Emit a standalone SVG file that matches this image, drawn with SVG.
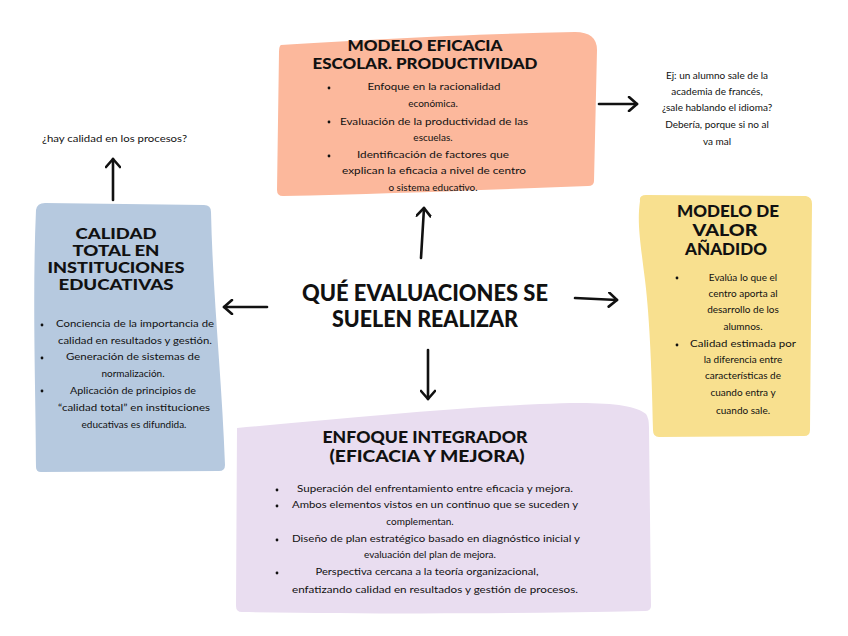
<svg xmlns="http://www.w3.org/2000/svg" width="848" height="636" viewBox="0 0 848 636">
<style>
.t{font-family:"Lato","Liberation Sans",sans-serif;font-weight:900;fill:#111;text-anchor:middle}
.h{font-size:17px}
.hs{font-size:15px}
.c{font-size:22px}
.b{font-family:"Lato","Open Sans",sans-serif;font-size:10px;fill:#111;text-anchor:middle}
.bl{font-family:"Lato","Open Sans",sans-serif;font-size:10px;fill:#111}
.dot{fill:#111}
.arr{stroke:#111;stroke-width:2.6;fill:none;stroke-linecap:round;marker-end:url(#ah)}
</style>
<defs>
<marker id="ah" viewBox="0 0 14 16" refX="11" refY="8" markerWidth="14" markerHeight="16" markerUnits="userSpaceOnUse" orient="auto">
<path d="M3,1 L11,8 L3,15" fill="none" stroke="#111" stroke-width="2.6" stroke-linecap="round" stroke-linejoin="round"/>
</marker>
</defs>
<rect width="848" height="636" fill="#fff"/>

<g id="connectors">
<path class="arr" d="M421,258 L424,208"/>
<path class="arr" d="M267,307 L224,307"/>
<path class="arr" d="M575,298 L617,300"/>
<path class="arr" d="M428,350 L428,399"/>
<path class="arr" d="M113,200 L113,159"/>
<path class="arr" d="M599,104 L637,104"/>
</g>

<g id="center">
<text class="t c" x="425" y="301" textLength="246" lengthAdjust="spacingAndGlyphs">QUÉ EVALUACIONES SE</text>
<text class="t c" x="425" y="327" textLength="186" lengthAdjust="spacingAndGlyphs">SUELEN REALIZAR</text>
</g>

<g id="modelo-eficacia">
<path d="M281,45 C360,40 470,34 575,32 Q597,32 597,50 L594,181 Q594,186 588,186 C480,190 380,194 283,196 Q277,196 277,190 L279,52 Q279,46 281,45 Z" fill="#FCB89C"/>
<text class="t hs" x="425" y="51" textLength="155" lengthAdjust="spacingAndGlyphs">MODELO EFICACIA</text>
<text class="t hs" x="425" y="69" textLength="225" lengthAdjust="spacingAndGlyphs">ESCOLAR. PRODUCTIVIDAD</text>
<circle class="dot" cx="329" cy="88" r="1.4"/>
<circle class="dot" cx="329" cy="122" r="1.4"/>
<circle class="dot" cx="329" cy="156" r="1.4"/>
<text class="b" x="434" y="90" textLength="133" lengthAdjust="spacingAndGlyphs">Enfoque en la racionalidad</text>
<text class="b" x="433" y="107">económica.</text>
<text class="b" x="434" y="125" textLength="188" lengthAdjust="spacingAndGlyphs">Evaluación de la productividad de las</text>
<text class="b" x="433" y="141">escuelas.</text>
<text class="b" x="433" y="158" textLength="152" lengthAdjust="spacingAndGlyphs">Identificación de factores que</text>
<text class="b" x="434" y="174" textLength="184" lengthAdjust="spacingAndGlyphs">explican la eficacia a nivel de centro</text>
<text class="b" x="433" y="191">o sistema educativo.</text>
</g>

<g id="ejemplo">
<text class="b" x="717" y="79">Ej: un alumno sale de la</text>
<text class="b" x="717" y="95">academia de francés,</text>
<text class="b" x="717" y="111">¿sale hablando el idioma?</text>
<text class="b" x="717" y="128">Debería, porque si no al</text>
<text class="b" x="717" y="145">va mal</text>
</g>

<g id="pregunta">
<text class="bl" x="42" y="142" textLength="145" lengthAdjust="spacingAndGlyphs">¿hay calidad en los procesos?</text>
</g>

<g id="calidad-total">
<path d="M36,210 Q37,203 45,203 L204,205 Q211,205 211,212 C213,300 222,380 225,465 Q225,471 219,471 L41,472 Q36,472 36,467 C36,400 32,300 36,210 Z" fill="#B6C9DF"/>
<text class="t hs" x="116" y="239" textLength="81" lengthAdjust="spacingAndGlyphs">CALIDAD</text>
<text class="t hs" x="116" y="256" textLength="87" lengthAdjust="spacingAndGlyphs">TOTAL EN</text>
<text class="t hs" x="116" y="273" textLength="137" lengthAdjust="spacingAndGlyphs">INSTITUCIONES</text>
<text class="t hs" x="116" y="290" textLength="115" lengthAdjust="spacingAndGlyphs">EDUCATIVAS</text>
<circle class="dot" cx="42" cy="325" r="1.4"/>
<circle class="dot" cx="42" cy="358" r="1.4"/>
<circle class="dot" cx="42" cy="391" r="1.4"/>
<text class="b" x="135" y="327" textLength="158" lengthAdjust="spacingAndGlyphs">Conciencia de la importancia de</text>
<text class="b" x="135" y="344" textLength="154" lengthAdjust="spacingAndGlyphs">calidad en resultados y gestión.</text>
<text class="b" x="133" y="360" textLength="134" lengthAdjust="spacingAndGlyphs">Generación de sistemas de</text>
<text class="b" x="133" y="377">normalización.</text>
<text class="b" x="133" y="394" textLength="126" lengthAdjust="spacingAndGlyphs">Aplicación de principios de</text>
<text class="b" x="134" y="411" textLength="152" lengthAdjust="spacingAndGlyphs">“calidad total” en instituciones</text>
<text class="b" x="134" y="428">educativas es difundida.</text>
</g>

<g id="valor-anadido">
<path d="M640,201 Q639,195 646,195 L806,196 Q812,197 812,204 L810,430 Q810,436 804,436 L659,437 Q653,437 653,430 C652,380 650,320 645,280 C640,240 637,222 640,201 Z" fill="#F8E08F"/>
<text class="t h" x="728" y="217" textLength="102" lengthAdjust="spacingAndGlyphs">MODELO DE</text>
<text class="t h" x="725" y="236" textLength="65" lengthAdjust="spacingAndGlyphs">VALOR</text>
<text class="t h" x="726" y="255" textLength="82" lengthAdjust="spacingAndGlyphs">AÑADIDO</text>
<circle class="dot" cx="677" cy="278" r="1.4"/>
<circle class="dot" cx="677" cy="345" r="1.4"/>
<text class="b" x="743" y="281">Evalúa lo que el</text>
<text class="b" x="743" y="297">centro aporta al</text>
<text class="b" x="743" y="313">desarrollo de los</text>
<text class="b" x="743" y="330">alumnos.</text>
<text class="b" x="743" y="347" textLength="106" lengthAdjust="spacingAndGlyphs">Calidad estimada por</text>
<text class="b" x="743" y="363">la diferencia entre</text>
<text class="b" x="743" y="379">características de</text>
<text class="b" x="743" y="396">cuando entra y</text>
<text class="b" x="743" y="414">cuando sale.</text>
</g>

<g id="enfoque-integrador">
<path d="M237,428 C350,418 450,408 540,404 C600,401 635,404 646,414 Q649,418 649,428 L651,606 Q651,611 645,611 C500,614 380,614 242,612 Q236,612 236,606 Z" fill="#E9DDF0"/>
<text class="t h" x="425" y="443" textLength="205" lengthAdjust="spacingAndGlyphs">ENFOQUE INTEGRADOR</text>
<text class="t h" x="427" y="462" textLength="195" lengthAdjust="spacingAndGlyphs">(EFICACIA Y MEJORA)</text>
<circle class="dot" cx="277" cy="490" r="1.4"/>
<circle class="dot" cx="277" cy="506" r="1.4"/>
<circle class="dot" cx="277" cy="540" r="1.4"/>
<circle class="dot" cx="277" cy="573" r="1.4"/>
<text class="b" x="435" y="492" textLength="276" lengthAdjust="spacingAndGlyphs">Superación del enfrentamiento entre eficacia y mejora.</text>
<text class="b" x="435" y="508" textLength="286" lengthAdjust="spacingAndGlyphs">Ambos elementos vistos en un continuo que se suceden y</text>
<text class="b" x="420" y="525">complementan.</text>
<text class="b" x="436" y="542" textLength="288" lengthAdjust="spacingAndGlyphs">Diseño de plan estratégico basado en diagnóstico inicial y</text>
<text class="b" x="430" y="558">evaluación del plan de mejora.</text>
<text class="b" x="427" y="575" textLength="223" lengthAdjust="spacingAndGlyphs">Perspectiva cercana a la teoría organizacional,</text>
<text class="b" x="435" y="593" textLength="286" lengthAdjust="spacingAndGlyphs">enfatizando calidad en resultados y gestión de procesos.</text>
</g>
</svg>
